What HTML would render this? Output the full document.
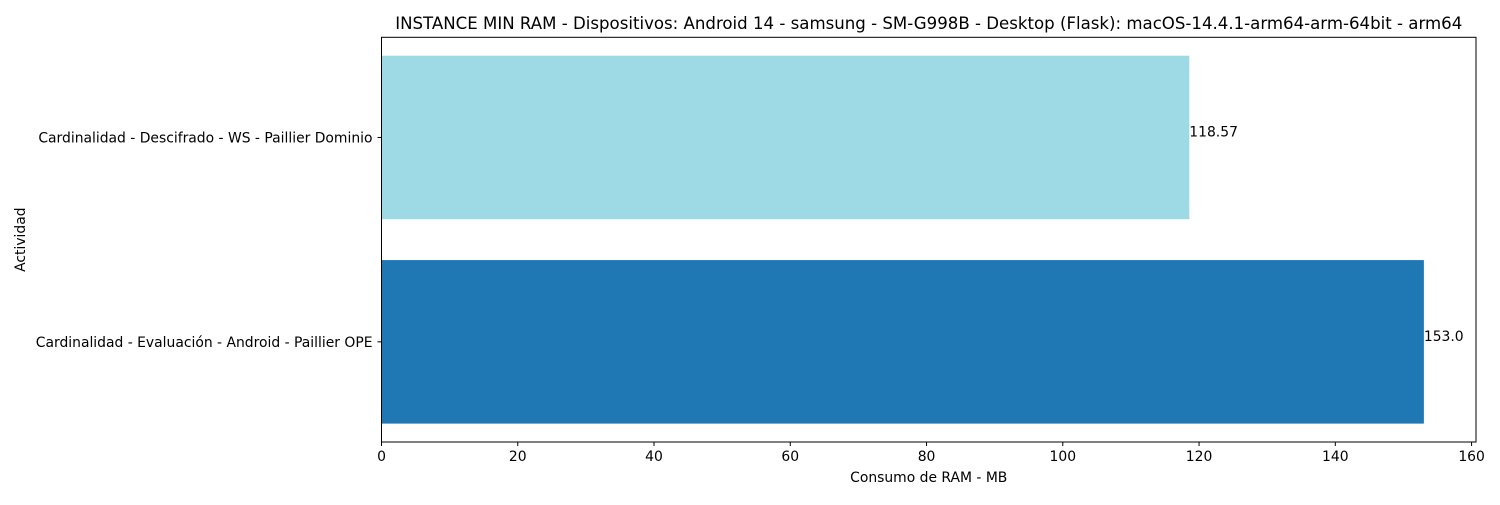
<!DOCTYPE html>
<html><head><meta charset="utf-8"><style>
body{margin:0;background:#fff;font-family:"Liberation Sans","DejaVu Sans",sans-serif;}
svg text{font-family:"DejaVu Sans","Liberation Sans",sans-serif;}
</style></head><body>
<svg id="chart" width="1500" height="500" xmlns="http://www.w3.org/2000/svg"></svg>
<script>
const categories = ["Cardinalidad - Evaluación - Android - Paillier OPE", "Cardinalidad - Descifrado - WS - Paillier Dominio"];
const values = [153.0, 118.57];
const valueLabels = ["153.0", "118.57"];
const colors = ["#1f77b4", "#9edae5"];
const xTicks = [0, 20, 40, 60, 80, 100, 120, 140, 160];

const svg = document.getElementById('chart');
const NS = 'http://www.w3.org/2000/svg';
const L = 381.5, R = 1476, T = 37.3, B = 442;
const FS = 13.9;
const xMax = Math.max(...values) * 1.05;
const yMin = -0.49, yMax = categories.length - 1 + 0.49;
const xs = v => L + v / xMax * (R - L);
const ys = v => B - (v - yMin) / (yMax - yMin) * (B - T);
function el(tag, attrs, text) {
  const e = document.createElementNS(NS, tag);
  for (const k in attrs) e.setAttribute(k, attrs[k]);
  if (text !== undefined) e.textContent = text;
  svg.appendChild(e);
  return e;
}
const title = el('text', {x: (L + R) / 2, y: 29, 'text-anchor': 'middle', 'font-size': 16.6, fill: '#000'}, 'INSTANCE MIN RAM - Dispositivos: Android 14 - samsung - SM-G998B - Desktop (Flask): macOS-14.4.1-arm64-arm-64bit - arm64');


categories.forEach((c, i) => {
  const y0 = ys(i + 0.4), y1 = ys(i - 0.4);
  const bar = el('rect', {x: xs(0), y: y0, width: xs(values[i]) - xs(0), height: y1 - y0, fill: colors[i]});
  
  
  const vl = el('text', {x: xs(values[i]), y: ys(i) - 1, 'font-size': FS, fill: '#000'}, valueLabels[i]);
  
  
  el('line', {x1: L - 4, x2: L, y1: ys(i), y2: ys(i), stroke: '#000', 'stroke-width': 1});
  const cl = el('text', {x: L - 9, y: ys(i) + 5, 'text-anchor': 'end', 'font-size': FS, fill: '#000'}, c);
  
  
});
xTicks.forEach(t => {
  el('line', {x1: xs(t), x2: xs(t), y1: B, y2: B + 4, stroke: '#000', 'stroke-width': 1});
  const tl = el('text', {x: xs(t), y: B + 19, 'text-anchor': 'middle', 'font-size': FS, fill: '#000'}, String(t));
  
  
});
const frame = el('rect', {x: L, y: T, width: R - L, height: B - T, fill: 'none', stroke: '#000', 'stroke-width': 1});


const xt = el('text', {x: (L + R) / 2, y: 482, 'text-anchor': 'middle', 'font-size': FS, fill: '#000'}, 'Consumo de RAM - MB');


const yt = el('text', {x: 25, y: (T + B) / 2, 'text-anchor': 'middle', 'font-size': FS, fill: '#000', transform: 'rotate(-90 25 ' + (T + B) / 2 + ')'}, 'Actividad');


</script>
</body></html>
